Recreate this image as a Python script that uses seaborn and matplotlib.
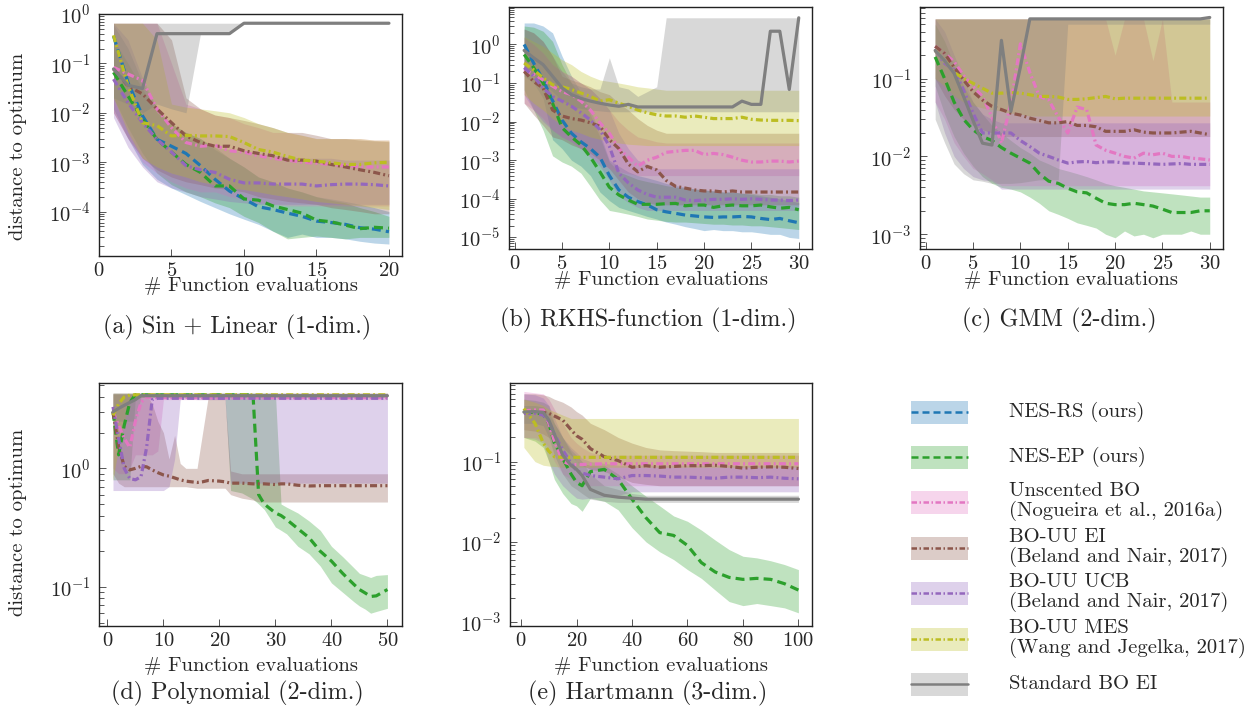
import matplotlib
matplotlib.use("Agg")
import matplotlib.pyplot as plt
import numpy as np
import pandas as pd
import seaborn as sns
from matplotlib.patches import Rectangle
from matplotlib.lines import Line2D
from matplotlib.ticker import LogLocator, NullFormatter, FixedLocator

sns.set_style("ticks")
plt.rcParams.update({
    "font.family": "cmr10",
    "mathtext.fontset": "cm",
    "axes.formatter.use_mathtext": True,
    "axes.unicode_minus": False,
})

# ---------------------------------------------------------------- methods
METHODS = ["NES-RS", "NES-EP", "Unscented BO", "BO-UU EI", "BO-UU UCB",
           "BO-UU MES", "Standard BO EI"]
LEGEND_LABELS = ["NES-RS (ours)", "NES-EP (ours)",
                 "Unscented BO\n(Nogueira et al., 2016a)",
                 "BO-UU EI\n(Beland and Nair, 2017)",
                 "BO-UU UCB\n(Beland and Nair, 2017)",
                 "BO-UU MES\n(Wang and Jegelka, 2017)",
                 "Standard BO EI"]
COLORS = dict(zip(METHODS, ["#1f77b4", "#2ca02c", "#e377c2", "#8c564b",
                            "#9467bd", "#bcbd22", "#7f7f7f"]))
DASHED = (0, (2.8, 1.6))
DASHDOT = (0, (2.2, 1.0, 0.6, 1.0))
STYLES = dict(zip(METHODS, [DASHED, DASHED, DASHDOT, DASHDOT, DASHDOT,
                            DASHDOT, "-"]))

# ---------------------------------------------------------------- (a) Sin + Linear
sin_x = list(range(1, 21))
sin_median = {
    "NES-RS": [0.36, 0.041, 0.0087, 0.0029, 0.0021, 0.0015, 0.00085, 0.00045, 0.00026, 0.00018,
               0.000125, 0.00011, 9.3e-5, 8e-5, 6.4e-5, 6e-5, 5.5e-5, 4.7e-5, 4.4e-5, 3.9e-5],
    "NES-EP": [0.066, 0.022, 0.0075, 0.0029, 0.0016, 0.0009, 0.00062, 0.00033, 0.00033, 0.00018,
               0.00017, 0.00013, 0.00011, 9.3e-5, 6.7e-5, 6.2e-5, 5.3e-5, 4.5e-5, 4.8e-5, 4.6e-5],
    "Unscented BO": [0.083, 0.061, 0.045, 0.012, 0.005, 0.0025, 0.0021, 0.0022, 0.0017, 0.0016,
                     0.00135, 0.0012, 0.0011, 0.001, 0.00095, 0.0009, 0.00085, 0.0008, 0.0008, 0.0008],
    "BO-UU EI": [0.077, 0.035, 0.024, 0.012, 0.0063, 0.0034, 0.0025, 0.0021, 0.0021, 0.0017,
                 0.0015, 0.00135, 0.0011, 0.0011, 0.00105, 0.0009, 0.0008, 0.0007, 0.00062, 0.00053],
    "BO-UU UCB": [0.048, 0.016, 0.0063, 0.0029, 0.0016, 0.00085, 0.0007, 0.00062, 0.00045, 0.00038,
                  0.00038, 0.00036, 0.00036, 0.00036, 0.00033, 0.00035, 0.00036, 0.00036, 0.00035, 0.00033],
    "BO-UU MES": [0.37, 0.035, 0.0063, 0.0055, 0.0034, 0.0035, 0.0034, 0.0034, 0.0033, 0.0025,
                  0.0018, 0.0016, 0.0013, 0.0011, 0.00105, 0.00097, 0.0009, 0.0009, 0.00097, 0.001],
    "Standard BO EI": [0.077, 0.036, 0.031, 0.4, 0.4, 0.4, 0.4, 0.4, 0.4] + [0.65] * 11,
}
sin_lower = {
    "NES-RS": [0.012, 0.003, 0.0009, 0.00045, 0.0003, 0.00022, 0.00016, 0.00012, 9e-5, 7e-5,
               5.5e-5, 4e-5, 3e-5, 3.5e-5, 3e-5, 3e-5, 2.8e-5, 2.5e-5, 2.3e-5, 2.2e-5],
    "NES-EP": [0.02, 0.005, 0.0015, 0.0006, 0.00035, 0.00025, 0.0002, 0.00015, 0.00012, 8e-5,
               6e-5, 4e-5, 2.8e-5, 3e-5, 3.2e-5, 3e-5, 2.8e-5, 3e-5, 3e-5, 3e-5],
    "Unscented BO": [0.01, 0.003, 0.001, 0.0006, 0.0004, 0.0003, 0.00025, 0.00025, 0.0002, 0.00018,
                     0.00015, 0.00014] + [0.00013] * 8,
    "BO-UU EI": [0.01, 0.003, 0.0012, 0.0007, 0.0005, 0.0004, 0.00035, 0.0003, 0.00028, 0.00025,
                 0.0002, 0.00018, 0.00016, 0.00015, 0.00014, 0.00012, 0.00011, 0.0001, 9e-5, 9e-5],
    "BO-UU UCB": [0.008, 0.002, 0.0008, 0.0004, 0.0003, 0.00025, 0.0002, 0.00018, 0.00016, 0.00015]
                 + [0.00014] * 10,
    "BO-UU MES": [0.02, 0.004, 0.0012, 0.0008, 0.0006, 0.0005, 0.0004, 0.00035, 0.0003, 0.00028,
                  0.00025, 0.00022, 0.0002, 0.00018, 0.00016, 0.00015, 0.00014, 0.00013, 0.00012, 0.00011],
    "Standard BO EI": [0.02, 0.015, 0.01, 0.015, 0.012, 0.01, 0.4, 0.4, 0.4] + [0.65] * 11,
}
sin_upper = {
    "NES-RS": [0.6, 0.2, 0.04, 0.012, 0.006, 0.004, 0.003, 0.0018, 0.0012, 0.0008,
               0.0005, 0.0004, 0.0003, 0.00025, 0.0002, 0.00018, 0.00016, 0.00014, 0.00012, 0.0001],
    "NES-EP": [0.3, 0.1, 0.03, 0.01, 0.006, 0.004, 0.003, 0.002, 0.0012, 0.0008,
               0.0005, 0.0004, 0.0003, 0.00025, 0.0002, 0.00017, 0.00015, 0.00012, 0.0001, 8e-5],
    "Unscented BO": [0.65, 0.65, 0.65, 0.65, 0.1, 0.015, 0.012, 0.009, 0.008, 0.006,
                     0.005, 0.004, 0.004, 0.0035, 0.003, 0.003, 0.003, 0.003, 0.0028, 0.0028],
    "BO-UU EI": [0.65, 0.65, 0.65, 0.65, 0.3, 0.02, 0.012, 0.009, 0.008, 0.007,
                 0.006, 0.005, 0.004, 0.004, 0.0035, 0.003, 0.003, 0.0028, 0.0027, 0.0026],
    "BO-UU UCB": [0.65, 0.3, 0.05, 0.012, 0.005, 0.003, 0.0025, 0.002, 0.0018, 0.0016,
                  0.0015, 0.0014, 0.0013, 0.0012, 0.0012, 0.0012, 0.0011, 0.0011, 0.0011, 0.0011],
    "BO-UU MES": [0.65, 0.65, 0.65, 0.3, 0.015, 0.013, 0.012, 0.011, 0.01, 0.008,
                  0.006, 0.005, 0.004, 0.0035, 0.003, 0.003, 0.003, 0.003, 0.0028, 0.0028],
    "Standard BO EI": [0.65] * 20,
}

# ---------------------------------------------------------------- (b) RKHS-function
rkhs_x = list(range(1, 31))
rkhs_median = {
    "NES-RS": [1.0, 0.33, 0.12, 0.035, 0.011, 0.005, 0.003, 0.002, 0.0012, 0.0004,
               0.00017, 0.00011, 8.5e-5, 7e-5, 5.2e-5, 4.6e-5, 4.2e-5, 3.8e-5, 3.6e-5, 3.4e-5,
               3.3e-5, 3.4e-5, 3.4e-5, 3.5e-5, 3.4e-5, 3.1e-5, 2.9e-5, 3.1e-5, 2.7e-5, 2.4e-5],
    "NES-EP": [0.55, 0.25, 0.1, 0.03, 0.007, 0.004, 0.0025, 0.0012, 0.0005, 0.0002,
               0.000126, 9.3e-5, 7.2e-5, 7.2e-5, 7.2e-5, 7.5e-5, 7.6e-5, 6.6e-5, 6.9e-5, 6.9e-5,
               6.0e-5, 6.6e-5, 6.9e-5, 6.6e-5, 6.6e-5, 6.9e-5, 6.2e-5, 5.7e-5, 6.0e-5, 5.2e-5],
    "Unscented BO": [0.22, 0.17, 0.12, 0.083, 0.06, 0.05, 0.034, 0.02, 0.0093, 0.005,
                     0.002, 0.0012, 0.0007, 0.001, 0.0012, 0.0016, 0.0017, 0.0018, 0.0018, 0.0014,
                     0.0015, 0.0014, 0.0012, 0.001, 0.0009, 0.0009, 0.00095, 0.00095, 0.0009, 0.00095],
    "BO-UU EI": [0.2, 0.11, 0.074, 0.02, 0.014, 0.012, 0.011, 0.0093, 0.0076, 0.0034,
                 0.002, 0.0008, 0.0005, 0.00069, 0.00056, 0.0003, 0.00021, 0.00019, 0.00017, 0.00016,
                 0.00016, 0.00015, 0.00016, 0.00015, 0.00015, 0.00015, 0.00015, 0.00015, 0.00015, 0.00015],
    "BO-UU UCB": [0.25, 0.15, 0.074, 0.045, 0.034, 0.025, 0.017, 0.011, 0.0062, 0.0023,
                  0.00046, 0.00026, 0.00017, 0.00013, 0.00011, 0.00011, 0.00011, 9.3e-5, 9e-5, 9.3e-5,
                  9.7e-5, 9.7e-5, 0.0001, 9.7e-5, 0.0001, 9.7e-5, 9.3e-5, 9.3e-5, 9e-5, 9.3e-5],
    "BO-UU MES": [0.33, 0.22, 0.136, 0.09, 0.08, 0.068, 0.055, 0.045, 0.034, 0.037,
                  0.03, 0.025, 0.02, 0.017, 0.015, 0.014, 0.014, 0.013, 0.014, 0.013,
                  0.012, 0.012, 0.012, 0.013, 0.0115, 0.011, 0.0108, 0.0108, 0.0108, 0.0106],
    "Standard BO EI": [0.7, 0.45, 0.3, 0.15, 0.075, 0.05, 0.04, 0.034, 0.03, 0.027,
                       0.025, 0.028] + [0.024] * 11 + [0.034, 0.028, 0.028, 2.2, 2.2, 0.068, 4.9],
}
rkhs_lower = {
    "NES-RS": [0.15, 0.1, 0.04, 0.0034, 0.002, 0.001, 0.0007, 0.0004, 0.00015, 9e-5,
               6e-5, 5e-5, 4.2e-5, 3.5e-5, 3e-5, 2.5e-5, 2.2e-5, 1.9e-5, 1.7e-5, 1.5e-5,
               1.6e-5, 1.5e-5, 1.5e-5, 1.4e-5, 1.4e-5, 1.3e-5, 1.2e-5, 1.2e-5, 1.0e-5, 9.4e-6],
    "NES-EP": [0.067, 0.02, 0.006, 0.0013, 0.0009, 0.0007, 0.00046, 0.00021, 9.3e-5, 5e-5,
               4.5e-5, 4e-5, 3.5e-5, 3e-5, 2.8e-5, 2.6e-5, 2.5e-5, 2.5e-5, 2.4e-5, 2.3e-5,
               2.2e-5, 2.2e-5, 2.1e-5, 2.1e-5, 2e-5, 2e-5, 1.9e-5, 1.8e-5, 1.7e-5, 1.6e-5],
    "Unscented BO": [0.03, 0.02, 0.012, 0.006, 0.004, 0.003, 0.002, 0.0012, 0.0008, 0.0006,
                     0.0005, 0.00045] + [0.0004] * 18,
    "BO-UU EI": [0.03, 0.015, 0.008, 0.004, 0.0034, 0.0025, 0.002, 0.0015, 0.001, 0.0006,
                 0.0003, 0.00015, 0.0001, 8e-5] + [7e-5] * 16,
    "BO-UU UCB": [0.05, 0.02, 0.01, 0.006, 0.004, 0.003, 0.002, 0.0012, 0.0007, 0.0003,
                  0.00012, 8e-5, 6e-5] + [5e-5] * 17,
    "BO-UU MES": [0.05, 0.03, 0.02, 0.012, 0.008, 0.006, 0.005, 0.004, 0.0035, 0.003,
                  0.0028, 0.0026, 0.0025] + [0.0024] * 17,
    "Standard BO EI": [0.25, 0.15, 0.1, 0.06, 0.035, 0.025, 0.022, 0.02, 0.019] + [0.018] * 21,
}
rkhs_upper = {
    "NES-RS": [3.6, 3.6, 3.0, 2.0, 0.5, 0.15, 0.055, 0.02, 0.005, 0.001,
               0.0007, 0.0005, 0.0004, 0.00035, 0.0003, 0.00025, 0.00022, 0.0002, 0.00018, 0.00017,
               0.00016, 0.00015, 0.00015, 0.00014, 0.00013, 0.00012, 0.00011, 0.0001, 9e-5, 8e-5],
    "NES-EP": [3.0, 2.8, 2.2, 1.2, 0.3, 0.1, 0.04, 0.015, 0.004, 0.0009,
               0.0005, 0.0004, 0.00032, 0.00028, 0.00025, 0.00022, 0.0002, 0.00019, 0.00018, 0.00017,
               0.00016, 0.00015, 0.00015, 0.00014, 0.00014, 0.00013, 0.00013, 0.00012, 0.00012, 0.00011],
    "Unscented BO": [1.5, 1.0, 0.6, 0.3, 0.2, 0.15, 0.1, 0.07, 0.04, 0.02,
                     0.01, 0.006, 0.004, 0.0035, 0.003] + [0.0028] * 15,
    "BO-UU EI": [2.5, 2.0, 1.2, 0.5, 0.15, 0.12, 0.1, 0.08, 0.06, 0.05,
                 0.03, 0.02, 0.012, 0.008, 0.006] + [0.005] * 15,
    "BO-UU UCB": [1.5, 1.0, 0.6, 0.3, 0.2, 0.15, 0.1, 0.07, 0.04, 0.02,
                  0.005, 0.002, 0.001, 0.0008] + [0.0006] * 16,
    "BO-UU MES": [1.6, 1.2, 0.9, 0.6, 0.4, 0.3, 0.2, 0.15, 0.12, 0.11,
                  0.1, 0.09, 0.08, 0.075, 0.07] + [0.065] * 15,
    "Standard BO EI": [2.5, 2.0, 1.2, 0.5, 0.2, 0.1, 0.08, 0.07, 0.07, 0.45,
                       0.08, 0.07, 0.045, 0.06, 0.08] + [4.9] * 15,
}

# ---------------------------------------------------------------- (c) GMM
gmm_x = list(range(1, 31))
gmm_median = {
    "NES-EP": [0.19, 0.1, 0.05, 0.03, 0.022, 0.018, 0.016, 0.013, 0.011, 0.0095,
               0.0082, 0.006, 0.0048, 0.0045, 0.0039, 0.0035, 0.0034, 0.0029, 0.0025, 0.0024,
               0.0024, 0.0025, 0.0024, 0.0023, 0.0021, 0.0019, 0.0019, 0.0019, 0.002, 0.002],
    "Unscented BO": [0.26, 0.21, 0.165, 0.11, 0.079, 0.059, 0.032, 0.0148, 0.048, 0.28,
                     0.12, 0.059, 0.053, 0.032, 0.02, 0.043, 0.04, 0.014, 0.012, 0.011,
                     0.01, 0.0095, 0.011, 0.0105, 0.011, 0.01, 0.01, 0.0095, 0.0093, 0.009],
    "BO-UU EI": [0.26, 0.21, 0.14, 0.096, 0.068, 0.053, 0.044, 0.04, 0.036, 0.034,
                 0.031, 0.029, 0.027, 0.027, 0.028, 0.025, 0.025, 0.024, 0.021, 0.021,
                 0.021, 0.022, 0.0205, 0.02, 0.02, 0.02, 0.0205, 0.021, 0.02, 0.019],
    "BO-UU UCB": [0.23, 0.157, 0.13, 0.071, 0.036, 0.02, 0.02, 0.02, 0.02, 0.016,
                  0.0134, 0.011, 0.01, 0.009, 0.0082, 0.0085, 0.0086, 0.0083, 0.0085, 0.0085,
                  0.0082, 0.0082, 0.0081, 0.008, 0.0079, 0.008, 0.0081, 0.0079, 0.0079, 0.0079],
    "BO-UU MES": [0.23, 0.17, 0.12, 0.1, 0.087, 0.075, 0.065, 0.065, 0.066, 0.065,
                  0.062, 0.059, 0.059, 0.058, 0.054, 0.054, 0.055, 0.057, 0.059, 0.055] + [0.056] * 10,
    "Standard BO EI": [0.23, 0.17, 0.117, 0.059, 0.029, 0.0148, 0.014, 0.31, 0.038, 0.14]
                      + [0.585] * 19 + [0.61],
}
gmm_lower = {
    "NES-EP": [0.08, 0.035, 0.018, 0.011, 0.0075, 0.0055, 0.0045, 0.004, 0.0038, 0.0035,
               0.003, 0.0025, 0.002, 0.0018, 0.0016, 0.0014, 0.0013, 0.0012, 0.001, 0.0009,
               0.0011, 0.00095, 0.001, 0.0009, 0.001, 0.001, 0.001, 0.0011, 0.001, 0.001],
    "Unscented BO": [0.05, 0.03, 0.015, 0.01, 0.007, 0.006, 0.005] + [0.0042] * 23,
    "BO-UU EI": [0.1, 0.06, 0.04, 0.03, 0.025, 0.022, 0.02] + [0.018] * 23,
    "BO-UU UCB": [0.05, 0.02, 0.01, 0.007, 0.0055, 0.005, 0.0048] + [0.0038] * 23,
    "BO-UU MES": [0.1, 0.08, 0.06, 0.05, 0.045, 0.042, 0.04, 0.038, 0.036, 0.035] + [0.033] * 20,
    "Standard BO EI": [0.03, 0.015, 0.008, 0.006, 0.005, 0.0048, 0.0045, 0.0045, 0.0045, 0.0046,
                       0.0048, 0.005, 0.005, 0.005] + [0.5] * 16,
}
gmm_upper = {
    "NES-EP": [0.5, 0.3, 0.15, 0.08, 0.05, 0.035, 0.025, 0.02, 0.016, 0.013,
               0.011, 0.009, 0.008, 0.007, 0.0065, 0.006, 0.0055, 0.005, 0.0045, 0.0042,
               0.004, 0.0038, 0.0036, 0.0035, 0.0034, 0.0033, 0.0032, 0.0031, 0.003, 0.003],
    "Unscented BO": [0.585] * 19 + [0.2, 0.585, 0.585, 0.585, 0.17, 0.585] + [0.05] * 5,
    "BO-UU EI": [0.585] * 30,
    "BO-UU UCB": [0.585, 0.4, 0.2, 0.1, 0.05, 0.035, 0.03] + [0.027] * 23,
    "BO-UU MES": [0.585] * 30,
    "Standard BO EI": [0.585] * 30,
}

# ---------------------------------------------------------------- (d) Polynomial
poly_x = [1, 2, 3, 4, 5, 6, 7, 8, 9, 10, 11, 12, 13, 14, 16, 17, 18, 20, 21, 22,
          24, 26, 27, 28, 30, 31, 32, 34, 36, 38, 40, 42, 44, 45, 46, 47, 48, 50]
poly_median = {
    "NES-EP": [3.0, 1.3, 2.3, 3.6] + [4.17] * 18
              + [0.6, 0.5, 0.42, 0.4, 0.37, 0.31, 0.26, 0.2, 0.165, 0.13, 0.105, 0.095,
                 0.089, 0.083, 0.084, 0.095],
    "Unscented BO": [3.0, 2.3, 1.8, 1.5, 2.5, 3.6, 4.0] + [3.95] * 31,
    "BO-UU EI": [3.0, 1.53, 1.04, 0.97, 1.0, 1.04, 1.03, 0.97, 0.92, 0.88, 0.86, 0.83, 0.8, 0.78,
                 0.76, 0.77, 0.79, 0.78, 0.77, 0.75, 0.75, 0.74, 0.74, 0.74, 0.73, 0.74, 0.74,
                 0.72, 0.71] + [0.714] * 9,
    "BO-UU UCB": [3.3, 1.8, 1.0, 0.82, 0.8, 0.85, 1.5, 3.8] + [3.9] * 30,
    "BO-UU MES": [2.8, 3.5, 4.0, 4.15] + [4.17] * 34,
    "Standard BO EI": [3.0, 3.2, 3.4, 3.6, 3.8] + [4.1] * 33,
}
poly_lower = {
    "NES-EP": [0.8] * 4 + [4.0] * 15
              + [0.65, 0.62, 0.55, 0.5, 0.45, 0.32, 0.3, 0.28, 0.22, 0.19, 0.15, 0.108, 0.09,
                 0.075, 0.069, 0.065, 0.06, 0.062, 0.066],
    "Unscented BO": [1.0, 0.9, 0.9, 1.0, 1.3, 1.3, 1.3, 1.3, 1.4] + [3.8] * 29,
    "BO-UU EI": [0.9, 0.75] + [0.7] * 12 + [0.68] * 5 + [0.6, 0.56, 0.54] + [0.52] * 16,
    "BO-UU UCB": [0.65] * 10 + [0.7, 1.2, 3.8, 3.85] + [3.8] * 5 + [0.75] * 19,
    "BO-UU MES": [0.8, 1.5, 2.5, 3.6] + [4.0] * 34,
    "Standard BO EI": [2.5] * 5 + [4.0] * 33,
}
poly_upper = {
    "NES-EP": [4.3] * 25 + [0.5, 0.47, 0.42, 0.36, 0.3, 0.22, 0.18, 0.145, 0.13, 0.125,
                            0.12, 0.125, 0.127],
    "Unscented BO": [4.3] * 38,
    "BO-UU EI": [4.2] * 7 + [3.5, 2.5, 2.0, 1.2, 1.9, 1.1, 1.0, 1.0, 2.0, 4.0, 4.0, 4.0, 0.95]
                + [0.9] * 18,
    "BO-UU UCB": [4.3] * 38,
    "BO-UU MES": [4.3] * 38,
    "Standard BO EI": [4.3] * 38,
}

# ---------------------------------------------------------------- (e) Hartmann
hart_x = [1, 5, 8, 10, 12, 15, 18, 20, 22, 25, 30, 35, 40, 45, 50, 55, 60, 65, 70, 75,
          80, 85, 90, 95, 100]
hart_median = {
    "NES-EP": [0.415, 0.41, 0.39, 0.3, 0.17, 0.11, 0.07, 0.055, 0.05, 0.075, 0.08, 0.06, 0.034,
               0.02, 0.013, 0.012, 0.009, 0.0055, 0.0042, 0.0036, 0.0034, 0.0035, 0.0034, 0.003, 0.0025],
    "Unscented BO": [0.43, 0.44, 0.44, 0.3, 0.18, 0.1, 0.092, 0.092, 0.092, 0.093] + [0.094] * 15,
    "BO-UU EI": [0.41, 0.41, 0.41, 0.4, 0.37, 0.33, 0.25, 0.21, 0.19, 0.145, 0.115, 0.103, 0.085,
                 0.089, 0.085, 0.087, 0.089, 0.089, 0.09, 0.087, 0.083, 0.085, 0.086, 0.085, 0.082],
    "BO-UU UCB": [0.4, 0.4, 0.38, 0.32, 0.22, 0.14, 0.095, 0.077, 0.072, 0.067, 0.064, 0.061, 0.067,
                  0.067, 0.066, 0.064, 0.064, 0.063, 0.062, 0.064, 0.064, 0.063, 0.064, 0.062, 0.061],
    "BO-UU MES": [0.46, 0.3, 0.17, 0.135, 0.115] + [0.113] * 20,
    "Standard BO EI": [0.415, 0.42, 0.41, 0.33, 0.22, 0.12, 0.09, 0.08, 0.067, 0.045, 0.038,
                       0.036, 0.035] + [0.034] * 12,
}
hart_lower = {
    "NES-EP": [0.2, 0.18, 0.15, 0.1, 0.06, 0.04, 0.03, 0.028, 0.024, 0.035, 0.032, 0.025, 0.015,
               0.01, 0.0075, 0.006, 0.0045, 0.0035, 0.0025, 0.0018, 0.0016, 0.0017, 0.0016, 0.0015, 0.0013],
    "Unscented BO": [0.2, 0.2, 0.18, 0.15, 0.1, 0.07, 0.06, 0.055, 0.052] + [0.05] * 16,
    "BO-UU EI": [0.25, 0.24, 0.22, 0.2, 0.18, 0.15, 0.12, 0.1, 0.09, 0.08, 0.075, 0.065, 0.055,
                 0.052] + [0.05] * 11,
    "BO-UU UCB": [0.2, 0.19, 0.17, 0.1, 0.07, 0.05, 0.04, 0.035, 0.034, 0.035, 0.036, 0.038]
                 + [0.042] * 13,
    "BO-UU MES": [0.15, 0.1, 0.09, 0.088, 0.087] + [0.085] * 20,
    "Standard BO EI": [0.3, 0.3, 0.28, 0.2, 0.12, 0.07, 0.05, 0.045, 0.04, 0.034, 0.032]
                      + [0.031] * 14,
}
hart_upper = {
    "NES-EP": [0.6, 0.58, 0.55, 0.5, 0.3, 0.2, 0.13, 0.1, 0.095, 0.09, 0.09, 0.07, 0.05, 0.037,
               0.028, 0.021, 0.018, 0.014, 0.0105, 0.008, 0.0066, 0.0063, 0.0058, 0.0052, 0.0045],
    "Unscented BO": [0.75, 0.72, 0.7, 0.6, 0.45, 0.3, 0.2, 0.17, 0.15, 0.13] + [0.12] * 15,
    "BO-UU EI": [0.7, 0.7, 0.68, 0.65, 0.6, 0.55, 0.48, 0.42, 0.38, 0.3, 0.25, 0.2, 0.17, 0.15,
                 0.14, 0.137, 0.135, 0.133] + [0.13] * 7,
    "BO-UU UCB": [0.7, 0.68, 0.62, 0.5, 0.35, 0.2, 0.15, 0.13, 0.11, 0.1, 0.095] + [0.09] * 14,
    "BO-UU MES": [0.6, 0.55, 0.5, 0.45, 0.42, 0.38] + [0.345] * 19,
    "Standard BO EI": [0.5, 0.5, 0.48, 0.4, 0.3, 0.2, 0.14, 0.12, 0.1, 0.07, 0.05, 0.045, 0.04]
                      + [0.038] * 12,
}

# ---------------------------------------------------------------- figure
W, H = 1250, 708
fig = plt.figure(figsize=(W / 100, H / 100), dpi=100)

LABEL_FS = 14.9
CAPTION_FS = 17.4
LINE_W = 2.3


def px_rect(left, top, right, bottom):
    return [left / W, 1 - bottom / H, (right - left) / W, (bottom - top) / H]


def draw_panel(box, x, med, lo, hi, xlim, ylim, xticks, caption, cap_xy,
               xlabel_y, ylabel_xy=None):
    ax = fig.add_axes(px_rect(*box))
    ax.set_yscale("log")
    present = [m for m in METHODS if m in med]
    for m in present:
        ax.fill_between(x, lo[m], hi[m], color=COLORS[m], alpha=0.3, lw=0)
    for m in present:
        df = pd.DataFrame({"evals": x, "dist": med[m]})
        sns.lineplot(data=df, x="evals", y="dist", ax=ax, color=COLORS[m],
                     linewidth=LINE_W, linestyle=STYLES[m], estimator=None,
                     sort=False)
    ax.set_xlim(*xlim)
    ax.set_ylim(*ylim)
    ax.xaxis.set_major_locator(FixedLocator(xticks))
    ax.yaxis.set_major_locator(LogLocator(base=10, numticks=20))
    ax.yaxis.set_minor_locator(LogLocator(base=10, subs=np.arange(2, 10) * 1.0,
                                          numticks=20))
    ax.yaxis.set_minor_formatter(NullFormatter())
    ax.tick_params(which="both", direction="in", top=False, right=False,
                   color="#555555", labelsize=LABEL_FS, width=0.7)
    ax.tick_params(which="major", length=5)
    ax.tick_params(axis="y", which="major", pad=6)
    ax.tick_params(axis="x", which="major", pad=4)
    ax.tick_params(which="minor", length=3.5)
    for s in ax.spines.values():
        s.set_linewidth(1.0)
        s.set_color("#222222")
    ax.set_xlabel("# Function evaluations", fontsize=LABEL_FS)
    ax.xaxis.set_label_coords(0.5, xlabel_y)
    ax.xaxis.label.set_va("center")
    if ylabel_xy is not None:
        ax.set_ylabel("distance to optimum", fontsize=LABEL_FS)
        ax.yaxis.set_label_coords(*ylabel_xy)
        ax.yaxis.label.set_va("center")
    else:
        ax.set_ylabel("")
    fig.text(cap_xy[0] / W, 1 - cap_xy[1] / H, caption, fontsize=CAPTION_FS,
             ha="center", va="center")
    return ax


draw_panel((99, 14, 402, 256), sin_x, sin_median, sin_lower, sin_upper,
           (0, 20.9), (10 ** -4.9, 1.0), [0, 5, 10, 15, 20],
           "(a) Sin + Linear (1-dim.)", (237, 327), -0.125, (-0.267, 0.455))
draw_panel((509, 7, 812, 249), rkhs_x, rkhs_median, rkhs_lower, rkhs_upper,
           (-0.6, 31.4), (10 ** -5.3, 10 ** 0.97), [0, 5, 10, 15, 20, 25, 30],
           "(b) RKHS-function (1-dim.)", (648, 320), -0.127)
draw_panel((920, 7, 1223, 249), gmm_x, gmm_median, gmm_lower, gmm_upper,
           (-0.6, 31.4), (10 ** -3.19, 10 ** -0.08), [0, 5, 10, 15, 20, 25, 30],
           "(c) GMM (2-dim.)", (1059, 320), -0.127)
draw_panel((99, 383, 402, 626), poly_x, poly_median, poly_lower, poly_upper,
           (-1.5, 52.6), (10 ** -1.33, 10 ** 0.72), [0, 10, 20, 30, 40, 50],
           "(d) Polynomial (2-dim.)", (237, 693), -0.165, (-0.267, 0.428))
draw_panel((510, 383, 812, 626), hart_x, hart_median, hart_lower, hart_upper,
           (-4, 104.9), (10 ** -3.05, 10 ** -0.02), [0, 20, 40, 60, 80, 100],
           "(e) Hartmann (3-dim.)", (648, 693), -0.165)

# ---------------------------------------------------------------- legend
leg = fig.add_axes([0, 0, 1, 1])
leg.set_xlim(0, W)
leg.set_ylim(H, 0)
leg.axis("off")
row_y = [412, 457, 502, 548, 593, 639, 684]
for m, label, y in zip(METHODS, LEGEND_LABELS, row_y):
    leg.add_patch(Rectangle((911, y - 11.5), 57, 23, facecolor=COLORS[m],
                            alpha=0.3, lw=0))
    leg.add_line(Line2D([911, 968], [y, y], color=COLORS[m], lw=1.8,
                        linestyle=STYLES[m]))
    leg.text(1009, y, label, fontsize=LABEL_FS, ha="left", va="center",
             linespacing=1.05)

fig.savefig("out.png", dpi=100)
